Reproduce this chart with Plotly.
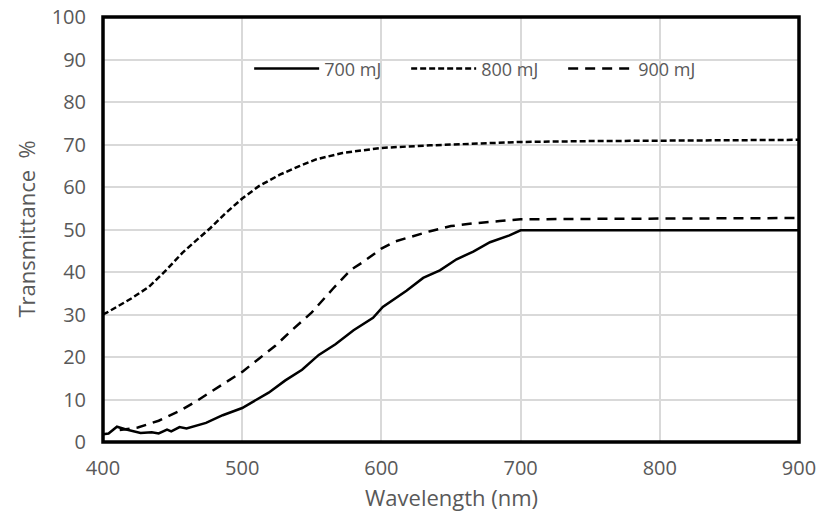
import plotly.graph_objects as go

# Transmittance spectra (%) for three pulse energies
wl_700 = [400, 404, 410, 416, 427, 435, 440, 446, 449, 455, 460, 474, 486, 500,
          519, 531, 543, 555, 567, 580, 594, 601, 618, 630, 642, 654, 666, 678,
          692, 700, 750, 800, 850, 900]
t_700 = [1.8, 2.0, 3.6, 3.0, 2.1, 2.3, 2.0, 2.9, 2.5, 3.5, 3.2, 4.5, 6.3, 8.0,
         11.6, 14.5, 17.0, 20.5, 23.0, 26.3, 29.2, 31.8, 35.6, 38.6, 40.4, 43.0,
         44.8, 47.0, 48.6, 49.8, 49.8, 49.8, 49.8, 49.8]

wl_800 = [400, 403, 420, 433, 445, 457, 470, 477, 488, 500, 512, 527, 541, 553,
          572, 589, 600, 635, 660, 700, 750, 800, 850, 900]
t_800 = [30.0, 30.5, 33.7, 36.5, 40.3, 44.5, 48.3, 50.3, 53.8, 57.3, 60.2, 62.9,
         64.9, 66.5, 68.0, 68.8, 69.2, 69.8, 70.1, 70.6, 70.8, 70.9, 71.0, 71.1]

wl_900 = [412, 425, 440, 455, 467, 480, 493, 500, 512, 524, 536, 550, 565, 578,
          587, 600, 610, 620, 635, 650, 665, 685, 700, 750, 800, 850, 900]
t_900 = [2.8, 3.4, 5.0, 7.3, 9.6, 12.3, 14.9, 16.5, 19.6, 22.7, 26.4, 30.5, 36.0,
         40.5, 42.4, 45.5, 47.2, 48.2, 49.6, 50.8, 51.4, 52.0, 52.4, 52.5, 52.6,
         52.6, 52.7]

x_ticks = [400, 500, 600, 700, 800, 900]
y_ticks = [0, 10, 20, 30, 40, 50, 60, 70, 80, 90, 100]

FONT = "Open Sans"
GREY = "#595959"

fig = go.Figure()
fig.add_trace(go.Scatter(x=wl_700, y=t_700, mode="lines", name="700 mJ",
                         line=dict(color="black", width=2.5, dash="solid")))
fig.add_trace(go.Scatter(x=wl_800, y=t_800, mode="lines", name="800 mJ",
                         line=dict(color="black", width=2.5, dash="6px,3px")))
fig.add_trace(go.Scatter(x=wl_900, y=t_900, mode="lines", name="900 mJ",
                         line=dict(color="black", width=2.5, dash="10px,7px")))

fig.update_layout(
    width=819, height=520,
    margin=dict(l=103, r=20, t=17, b=78, autoexpand=False),
    paper_bgcolor="white", plot_bgcolor="white",
    font=dict(family=FONT, color=GREY, size=18),
    showlegend=True,
    legend=dict(orientation="h", x=0.21, y=0.878, xanchor="left", yanchor="middle",
                bgcolor="rgba(0,0,0,0)", font=dict(size=18, color=GREY),
                itemwidth=65, entrywidth=77, entrywidthmode="pixels"),
    xaxis=dict(range=[400, 900], tickvals=x_ticks, showgrid=True,
               gridcolor="#d9d9d9", gridwidth=1.5, zeroline=False,
               ticks="", ticklabelstandoff=12, automargin=False,
               tickfont=dict(size=20, color=GREY)),
    yaxis=dict(range=[0, 100], tickvals=y_ticks, showgrid=True,
               gridcolor="#d9d9d9", gridwidth=1.5, zeroline=False,
               ticks="", ticklabelstandoff=16, automargin=False,
               tickfont=dict(size=20, color=GREY)),
)

# Axis titles
fig.add_annotation(text="Wavelength (nm)", xref="paper", yref="paper",
                   x=0.5, y=0, xanchor="center", yanchor="middle", yshift=-55,
                   showarrow=False, font=dict(size=22, color=GREY))
fig.add_annotation(text="Transmittance  %", xref="paper", yref="paper",
                   x=0, y=0.5, xanchor="center", yanchor="middle", xshift=-78,
                   textangle=-90, showarrow=False, font=dict(size=22, color=GREY))

# Heavy frame around the plotting area
fig.add_shape(type="rect", xref="paper", yref="paper", x0=0, y0=0, x1=1, y1=1,
              line=dict(color="black", width=3.5), fillcolor="rgba(0,0,0,0)",
              layer="above")

fig.write_html("out.html")
